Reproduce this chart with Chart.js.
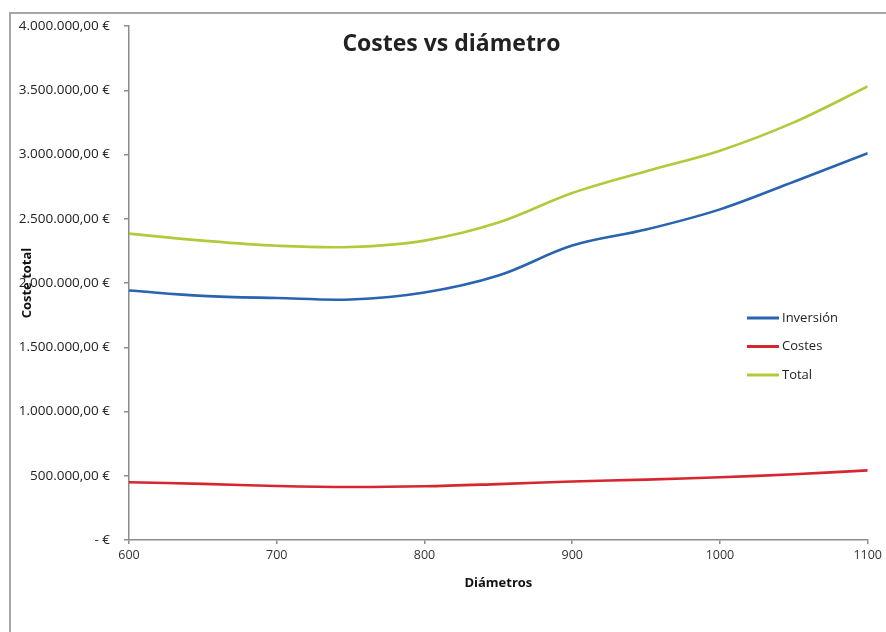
<!DOCTYPE html>
<html>
<head>
<meta charset="utf-8">
<script src="https://cdn.jsdelivr.net/npm/chart.js@4"></script>
<style>
    html, body { margin: 0; padding: 0; background: #fff; }
    #wrap { width: 886px; height: 632px; }
</style>
</head>
<body>
<div id="wrap"><canvas id="chart"></canvas></div>
<script>
/* Values (euros) */
var diametros = [600, 650, 700, 750, 800, 850, 900, 950, 1000, 1050, 1100];
var inversion = [1942000, 1900000, 1883000, 1872000, 1926000, 2058000, 2291000, 2416000, 2573000, 2788000, 3010000];
var costes    = [450000, 437000, 420000, 412000, 418000, 435000, 455000, 470000, 488000, 512000, 542000];
var total     = [2384000, 2330000, 2290000, 2280000, 2330000, 2470000, 2700000, 2870000, 3030000, 3250000, 3530000];

var xTickLabels = ['600', '700', '800', '900', '1000', '1100'];
var yTickLabels = ['- €', '500.000,00 €', '1.000.000,00 €', '1.500.000,00 €', '2.000.000,00 €',
                   '2.500.000,00 €', '3.000.000,00 €', '3.500.000,00 €', '4.000.000,00 €'];

var FONT = '"Open Sans", "DejaVu Sans", sans-serif';
var AXIS = '#8c8c8c';

function points (values) {
    return diametros.map(function (d, i) { return { x: d, y: values[i] }; });
}

function serie (label, values, color) {
    return {
        label: label,
        data: points(values),
        borderColor: color,
        backgroundColor: color,
        borderWidth: 2.6,
        pointRadius: 0,
        tension: 0.35,
        fill: false
    };
}

/* grey frame of the chart object */
var frame = {
    id: 'frame',
    beforeDraw: function (chart) {
        var ctx = chart.ctx;
        ctx.save();
        ctx.strokeStyle = '#a6a6a6';
        ctx.lineWidth = 2;
        ctx.strokeRect(10, 13, 1000, 1000);
        ctx.restore();
    }
};

/* the title in the original is a bit right of the canvas centre */
var titleShift = {
    id: 'titleShift',
    afterLayout: function (chart) {
        if (chart.titleBlock) {
            chart.titleBlock.left += 11;
            chart.titleBlock.right += 11;
        }
    }
};

/* legend sitting inside the plot, on the right */
var sideLegend = {
    id: 'sideLegend',
    afterDraw: function (chart) {
        var ctx = chart.ctx;
        ctx.save();
        ctx.font = '13px ' + FONT;
        ctx.textBaseline = 'middle';
        chart.data.datasets.forEach(function (ds, i) {
            var y = 318 + i * 28.5;
            ctx.strokeStyle = ds.borderColor;
            ctx.lineWidth = 3;
            ctx.beginPath();
            ctx.moveTo(747, y);
            ctx.lineTo(779, y);
            ctx.stroke();
            ctx.fillStyle = '#222';
            ctx.fillText(ds.label, 782, y);
        });
        ctx.restore();
    }
};

new Chart(document.getElementById('chart'), {
    type: 'line',
    data: {
        datasets: [
            serie('Inversión', inversion, '#2864b0'),
            serie('Costes', costes, '#d6262f'),
            serie('Total', total, '#b3c93a')
        ]
    },
    options: {
        responsive: true,
        maintainAspectRatio: false,
        animation: false,
        layout: { padding: { left: 12, right: 17, top: 26, bottom: 32 } },
        plugins: {
            legend: { display: false },
            tooltip: { enabled: false },
            title: {
                display: true,
                text: 'Costes vs diámetro',
                color: '#222',
                font: { family: FONT, size: 23, weight: 'bold' },
                padding: { top: 5, bottom: -32.6 }
            }
        },
        scales: {
            x: {
                type: 'linear',
                min: 600,
                max: 1100,
                afterFit: function (scale) { scale.height = 60; },
                border: { display: true, color: AXIS, width: 1.5 },
                grid: { drawOnChartArea: false, drawTicks: true, tickLength: 4, color: AXIS, lineWidth: 1.5 },
                ticks: {
                    stepSize: 100,
                    padding: 4,
                    maxRotation: 0,
                    color: '#333',
                    font: { family: FONT, size: 12.5 },
                    callback: function (v) { return xTickLabels[Math.round((v - 600) / 100)]; }
                },
                title: {
                    display: true,
                    text: 'Diámetros',
                    color: '#111',
                    font: { family: FONT, size: 13, weight: 'bold' },
                    padding: { top: 0, bottom: 9 }
                }
            },
            y: {
                min: 0,
                max: 4000000,
                afterFit: function (scale) { scale.width = 117; },
                border: { display: true, color: AXIS, width: 1.5 },
                grid: { drawOnChartArea: false, drawTicks: true, tickLength: 5, color: AXIS, lineWidth: 1.5 },
                ticks: {
                    stepSize: 500000,
                    padding: 14,
                    color: '#222',
                    font: { family: FONT, size: 13.5 },
                    callback: function (v) { return yTickLabels[Math.round(v / 500000)]; }
                },
                title: {
                    display: true,
                    text: 'Coste total',
                    color: '#111',
                    font: { family: FONT, size: 13, weight: 'bold' },
                    padding: { top: 7.2, bottom: 0 }
                }
            }
        }
    },
    plugins: [frame, titleShift, sideLegend]
});
</script>
</body>
</html>
